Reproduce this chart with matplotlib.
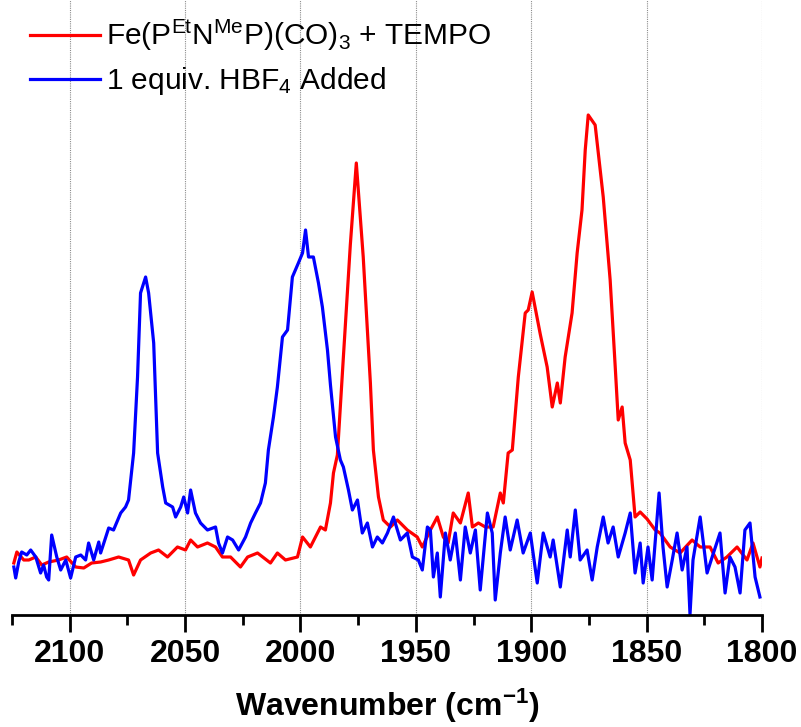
import matplotlib
matplotlib.use("Agg")
import matplotlib.pyplot as plt
from matplotlib.ticker import MultipleLocator

plt.rcParams['font.family'] = ['Liberation Sans', 'DejaVu Sans']
plt.rcParams['mathtext.default'] = 'regular'

# 紅色: Fe(PEtNMeP)(CO)3 + TEMPO
red_wn = [2124.2, 2122.9, 2119.9, 2117.7, 2114.7, 2112.1, 2109.1, 2104.8, 2101.3, 2097.4,
          2093.9, 2090.5, 2086.6, 2083.1, 2078.8, 2074.5, 2072.3, 2069.3, 2064.9, 2061.5,
          2057.6, 2053.3, 2049.8, 2047.6, 2044.6, 2040.3, 2036.8, 2033.8, 2030.3, 2026.0,
          2022.9, 2018.6, 2013.0, 2010.0, 2006.5, 2001.3, 1999.1, 1995.7, 1991.3, 1989.2,
          1987.0, 1985.7, 1984.0, 1981.4, 1978.4, 1975.8, 1972.8, 1969.7, 1968.4, 1966.2,
          1964.1, 1961.0, 1958.0, 1953.7, 1949.4, 1947.2, 1943.7, 1940.7, 1938.1, 1936.0,
          1933.8, 1930.7, 1927.3, 1925.5, 1922.9, 1919.9, 1916.5, 1913.4, 1912.1, 1910.0,
          1908.2, 1905.6, 1902.6, 1901.3, 1899.6, 1896.1, 1893.1, 1890.9, 1888.7, 1887.4,
          1885.3, 1882.3, 1880.1, 1878.0, 1876.6, 1875.3, 1872.3, 1868.8, 1865.8, 1863.6,
          1862.3, 1860.6, 1859.3, 1857.1, 1855.0, 1852.8, 1849.8, 1846.3, 1844.2, 1839.8,
          1835.5, 1830.3, 1826.8, 1822.5, 1819.0, 1815.2, 1810.8, 1806.5, 1803.9, 1800.9,
          1800.0]
red_abs = [9.8, 12.0, 10.4, 10.4, 11.0, 9.4, 10.0, 10.4, 11.0, 9.0,
           8.8, 9.8, 10.0, 10.4, 11.0, 10.4, 7.4, 10.4, 11.8, 12.4,
           11.0, 13.0, 12.4, 14.4, 13.0, 13.8, 13.0, 11.0, 11.0, 9.0,
           11.0, 11.8, 9.8, 11.8, 10.4, 11.0, 15.0, 13.0, 17.0, 16.4,
           21.8, 27.8, 31.4, 51.0, 73.4, 89.8, 71.0, 45.8, 32.4, 23.0,
           18.4, 17.0, 18.4, 16.4, 15.0, 13.0, 16.4, 19.0, 15.0, 13.8,
           19.8, 17.8, 23.8, 17.0, 17.8, 17.0, 17.0, 23.8, 21.8, 31.8,
           32.4, 47.0, 59.8, 60.4, 64.0, 55.6, 49.0, 41.0, 45.8, 41.8,
           51.0, 59.8, 71.8, 80.4, 92.4, 99.4, 97.4, 83.0, 66.4, 49.0,
           38.4, 41.0, 33.8, 30.4, 19.0, 20.0, 18.6, 16.4, 15.8, 13.0,
           11.8, 14.4, 13.0, 13.0, 9.8, 11.0, 13.0, 10.4, 13.8, 9.0,
           10.8]

# 藍色: 加入 1 equiv. HBF4
blue_wn = [2124.2, 2123.4, 2122.1, 2120.8, 2118.6, 2116.9, 2114.7, 2112.6, 2111.3, 2110.0,
           2109.1, 2107.8, 2105.6, 2103.9, 2101.7, 2099.6, 2097.4, 2095.2, 2093.1, 2091.8,
           2089.6, 2087.4, 2086.6, 2083.1, 2081.0, 2077.9, 2075.8, 2074.5, 2072.3, 2070.6,
           2069.3, 2067.1, 2065.8, 2063.6, 2061.9, 2059.7, 2058.4, 2055.4, 2054.1, 2051.9,
           2050.6, 2048.9, 2047.6, 2045.5, 2043.3, 2040.3, 2036.8, 2035.5, 2033.8, 2031.6,
           2029.4, 2026.8, 2023.8, 2021.6, 2019.5, 2017.3, 2015.2, 2013.9, 2011.7, 2010.0,
           2007.8, 2005.6, 2003.5, 2000.9, 1999.1, 1997.8, 1996.5, 1994.4, 1992.2, 1990.5,
           1988.3, 1987.0, 1984.8, 1982.7, 1981.4, 1979.2, 1977.5, 1975.3, 1973.2, 1971.0,
           1968.8, 1966.7, 1964.5, 1962.3, 1959.7, 1956.7, 1953.7, 1951.5, 1948.9, 1947.2,
           1945.0, 1943.7, 1942.4, 1940.7, 1939.4, 1937.2, 1935.1, 1932.9, 1930.7, 1928.6,
           1926.4, 1924.2, 1922.1, 1919.0, 1916.9, 1915.6, 1913.4, 1911.3, 1909.1, 1906.1,
           1903.5, 1900.4, 1897.4, 1894.8, 1891.8, 1890.5, 1887.4, 1884.4, 1883.1, 1880.9,
           1878.8, 1875.8, 1873.6, 1871.4, 1868.8, 1866.7, 1864.5, 1862.3, 1859.3, 1857.1,
           1855.0, 1852.8, 1851.5, 1849.4, 1847.6, 1844.6, 1842.9, 1841.1, 1838.9, 1836.8,
           1834.6, 1832.5, 1831.2, 1829.9, 1826.8, 1823.8, 1821.6, 1818.2, 1816.0, 1813.9,
           1811.7, 1809.5, 1807.4, 1805.2, 1803.0, 1800.9]
blue_abs = [9.0, 6.8, 10.0, 12.0, 11.4, 12.4, 11.0, 7.8, 9.4, 7.0,
            6.4, 15.4, 11.0, 8.4, 10.4, 6.8, 11.0, 11.4, 10.4, 13.8,
            10.4, 14.0, 11.8, 16.8, 16.4, 19.8, 21.0, 22.4, 31.8, 47.0,
            63.8, 67.0, 63.8, 53.8, 31.8, 25.0, 21.8, 21.0, 19.0, 21.0,
            23.0, 19.8, 24.4, 19.8, 17.8, 16.4, 17.0, 13.8, 11.8, 15.0,
            14.4, 12.4, 15.0, 17.8, 19.8, 21.8, 25.8, 32.4, 39.0, 45.0,
            55.0, 56.4, 67.0, 69.8, 71.8, 76.4, 71.0, 71.0, 65.8, 61.0,
            52.4, 45.4, 35.0, 30.4, 29.0, 24.4, 20.4, 22.4, 15.8, 17.8,
            13.0, 15.0, 13.8, 15.8, 19.0, 14.4, 15.8, 11.0, 10.4, 8.4,
            17.0, 16.4, 7.0, 11.8, 3.0, 15.8, 10.4, 15.8, 6.4, 17.0,
            11.8, 16.4, 4.4, 19.8, 15.8, 2.4, 11.8, 19.0, 12.4, 18.4,
            11.8, 15.8, 5.8, 15.8, 11.0, 14.4, 5.0, 16.4, 11.0, 20.4,
            10.4, 12.4, 6.4, 13.0, 19.0, 13.8, 17.0, 11.0, 15.8, 19.8,
            7.8, 13.8, 5.8, 13.0, 6.4, 23.8, 13.0, 5.0, 10.4, 15.8,
            8.4, 13.0, -0.5, 10.4, 19.0, 7.8, 11.0, 15.8, 3.8, 11.0,
            9.0, 3.8, 16.4, 17.8, 7.0, 3.0]

fig = plt.figure(figsize=(8.01, 7.27), dpi=100)
ax = fig.add_axes([12 / 801, 112 / 727, 750 / 801, 615 / 727])

ax.plot(red_wn, red_abs, color='#ff0000', lw=2.3,
        label=r'Fe(P$^{Et}$N$^{Me}$P)(CO)$_{3}$ + TEMPO')
ax.plot(blue_wn, blue_abs, color='#0000ff', lw=2.3,
        label=r'1 equiv. HBF$_{4}$ Added')

ax.set_xlim(2125, 1800)
ax.set_ylim(-0.6, 122.4)

ax.xaxis.set_major_locator(MultipleLocator(50))
ax.xaxis.set_minor_locator(MultipleLocator(25))
ax.tick_params(axis='x', which='major', direction='out', length=12, width=2,
               labelsize=23, pad=5)
ax.tick_params(axis='x', which='minor', direction='out', length=7, width=2)
for lab in ax.get_xticklabels():
    lab.set_fontweight('bold')
ax.set_yticks([])

for s in ['top', 'left', 'right']:
    ax.spines[s].set_visible(False)
ax.spines['bottom'].set_linewidth(2)

ax.grid(True, axis='x', which='major', color='0.55', lw=0.8, ls=(0, (1, 1)))

ax.set_xlabel(r'Wavenumber (cm$^{-1}$)', fontsize=23, fontweight='bold', labelpad=13)

ax.legend(loc='upper left', bbox_to_anchor=(0.0, 1.0), frameon=False, fontsize=21.5,
          handlelength=2.35, handletextpad=0.2, labelspacing=0.4, borderaxespad=0.2)

fig.savefig('out.png', dpi=100)
